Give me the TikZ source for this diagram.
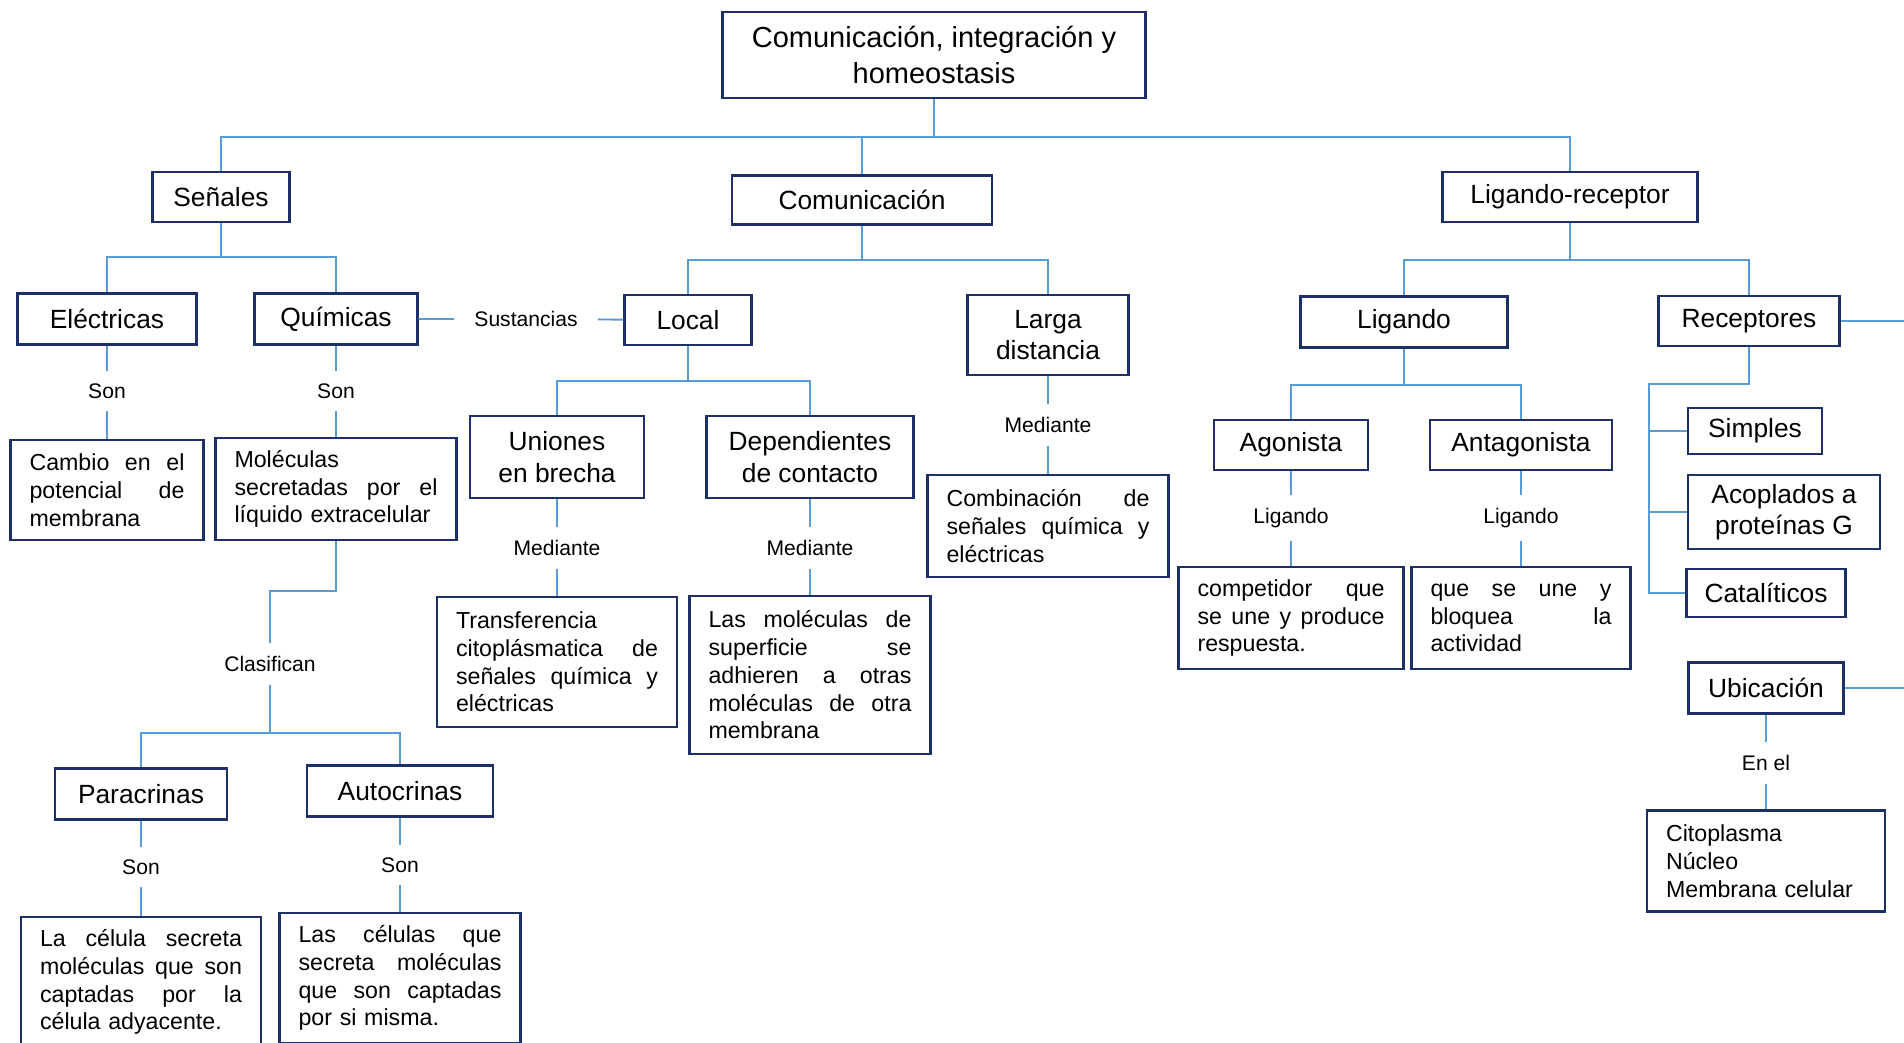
\documentclass[tikz,border=0pt]{standalone}
\usepackage{fontspec}
\setmainfont{Liberation Sans}
\usepackage{tikz}
\definecolor{boxblue}{HTML}{1C2F66}
\definecolor{linkblue}{HTML}{5B9BD5}
\newcommand{\jline}[1]{\makebox[\hsize][s]{\spaceskip=0.28em plus 1fil\relax #1}\\}

\begin{document}
\begin{tikzpicture}[x=0.02cm,y=-0.02cm,
  box/.style={draw=boxblue,line width=1.4pt,fill=white,align=center,inner sep=2pt,font=\fontsize{15}{18}\selectfont},
  txtbox/.style={draw=boxblue,line width=1.4pt,fill=white,align=left,inner xsep=0.38cm,inner ysep=2pt,font=\fontsize{13.2}{15.8}\selectfont},
  lbl/.style={inner xsep=0.4cm,inner ysep=0.25cm,font=\fontsize{12}{14}\selectfont},
  link/.style={draw=linkblue,line width=1.1pt}]
       \useasboundingbox (0,0) rectangle (1904,1042);
       \coordinate (rim) at (1904,0);
       \node[box,minimum width=8.46cm,minimum height=1.72cm,font=\fontsize{16.5}{20}\selectfont] (top) at (934,55) {Comunicación, integración y\\homeostasis};
       \node[box,minimum width=2.74cm,minimum height=1cm] (senales) at (221,197) {Señales};
       \node[box,minimum width=5.2cm,minimum height=0.98cm] (comun) at (862,200) {Comunicación};
       \node[box,minimum width=5.1cm,minimum height=1cm] (ligrec) at (1570,197) {Ligando-receptor};
       \node[box,minimum width=3.58cm,minimum height=1.02cm] (electricas) at (107,319) {Eléctricas};
       \node[box,minimum width=3.26cm,minimum height=1.02cm] (quimicas) at (336,319) {Químicas};
       \node[lbl] (sust) at (526,319) {Sustancias};
       \node[box,minimum width=2.54cm,minimum height=1cm] (local) at (688,320) {Local};
       \node[box,minimum width=3.22cm,minimum height=1.6cm] (larga) at (1048,335) {Larga\\distancia};
       \node[box,minimum width=4.14cm,minimum height=1.02cm] (ligando) at (1404,322) {Ligando};
       \node[box,minimum width=3.62cm,minimum height=1cm] (receptores) at (1749,321) {Receptores};
       \node[lbl] (son1) at (107,391) {Son};
       \node[lbl] (son2) at (336,391) {Son};
       \node[txtbox,text width=3.1cm,minimum height=2cm] (cambio) at (107,490) {\jline{Cambio en el}\jline{potencial de}membrana};
       \node[txtbox,text width=4.06cm,minimum height=2.04cm] (moleculas) at (336,489) {Moléculas\\\jline{secretadas por el}líquido extracelular};
       \node[box,minimum width=3.48cm,minimum height=1.64cm] (uniones) at (557,457) {Uniones\\en brecha};
       \node[box,minimum width=4.14cm,minimum height=1.64cm] (dependientes) at (810,457) {Dependientes\\de contacto};
       \node[lbl] (med1) at (557,548) {Mediante};
       \node[lbl] (med2) at (810,548) {Mediante};
       \node[txtbox,text width=4.04cm,minimum height=2.6cm] (transfer) at (557,662) {Transferencia\\\jline{citoplásmatica de}\jline{señales química y}eléctricas};
       \node[txtbox,text width=4.06cm,minimum height=3.16cm] (superficie) at (810,675) {\jline{Las moléculas de}\jline{superficie se}\jline{adhieren a otras}\jline{moléculas de otra}membrana};
       \node[lbl] (med3) at (1048,425) {Mediante};
       \node[txtbox,text width=4.06cm,minimum height=2.04cm] (combinacion) at (1048,526) {\jline{Combinación de}\jline{señales química y}eléctricas};
       \node[box,minimum width=3.08cm,minimum height=1cm] (agonista) at (1291,445) {Agonista};
       \node[box,minimum width=3.64cm,minimum height=1cm] (antagonista) at (1521,445) {Antagonista};
       \node[lbl] (lig1) at (1291,518) {Ligando};
       \node[lbl] (lig2) at (1521,518) {Ligando};
       \node[txtbox,text width=3.74cm,minimum height=2.04cm] (competidor) at (1291,618) {\jline{competidor que}\jline{se une y produce}respuesta.};
       \node[txtbox,text width=3.62cm,minimum height=2.04cm] (bloquea) at (1521,618) {\jline{que se une y}\jline{bloquea la}actividad};
       \node[box,minimum width=2.68cm,minimum height=0.92cm] (simples) at (1755,431) {Simples};
       \node[box,minimum width=3.84cm,minimum height=1.48cm] (acoplados) at (1784,512) {Acoplados a\\proteínas G};
       \node[box,minimum width=3.18cm,minimum height=0.96cm] (cataliticos) at (1766,593) {Catalíticos};
       \node[box,minimum width=3.1cm,minimum height=1.02cm] (ubicacion) at (1766,688) {Ubicación};
       \node[lbl] (enel) at (1766,763) {En el};
       \node[txtbox,text width=4cm,minimum height=2.02cm] (citoplasma) at (1766,861) {Citoplasma\\Núcleo\\Membrana celular};
       \node[lbl] (clasif) at (270,664) {Clasifican};
       \node[box,minimum width=3.44cm,minimum height=1.02cm] (paracrinas) at (141,794) {Paracrinas};
       \node[box,minimum width=3.72cm,minimum height=1.02cm] (autocrinas) at (400,791) {Autocrinas};
       \node[lbl] (son3) at (141,867) {Son};
       \node[lbl] (son4) at (400,865) {Son};
       \node[txtbox,text width=4.04cm,minimum height=2.6cm] (lacelula) at (141,982) {\jline{La célula secreta}\jline{moléculas que son}\jline{captadas por la}célula adyacente.};
       \node[txtbox,text width=4.06cm,minimum height=2.6cm] (lascelulas) at (400,978) {\jline{Las células que}\jline{secreta moléculas}\jline{que son captadas}por si misma.};
       \draw[link] (top) -- ++(0,82) coordinate (tb);
       \draw[link] (senales) |- (tb);
       \draw[link] (ligrec) |- (tb);
       \draw[link] (comun) -- (comun |- tb);
       \draw[link] (senales) -- ++(0,60) coordinate (sb) -| (electricas);
       \draw[link] (sb) -| (quimicas);
       \draw[link] (comun) -- ++(0,60) coordinate (cb) -| (local);
       \draw[link] (cb) -| (larga);
       \draw[link] (ligrec) -- ++(0,63) coordinate (lb) -| (ligando);
       \draw[link] (lb) -| (receptores);
       \draw[link] (local) -- ++(0,61) coordinate (lob) -| (uniones);
       \draw[link] (lob) -| (dependientes);
       \draw[link] (ligando) -- ++(0,63) coordinate (lgb) -| (agonista);
       \draw[link] (lgb) -| (antagonista);
       \draw[link] (receptores) -- ++(0,63) -- ++(-100,0) coordinate (rb) |- (cataliticos);
       \draw[link] (rb |- simples) -- (simples);
       \draw[link] (rb |- acoplados) -- (acoplados);
       \draw[link] (receptores) -- (receptores -| rim);
       \draw[link] (ubicacion) -- (ubicacion -| rim);
       \draw[link] (quimicas) -- (sust) -- (local);
       \draw[link] (electricas) -- (son1) -- (cambio);
       \draw[link] (quimicas) -- (son2) -- (moleculas);
       \draw[link] (uniones) -- (med1) -- (transfer);
       \draw[link] (dependientes) -- (med2) -- (superficie);
       \draw[link] (larga) -- (med3) -- (combinacion);
       \draw[link] (agonista) -- (lig1) -- (competidor);
       \draw[link] (antagonista) -- (lig2) -- (bloquea);
       \draw[link] (ubicacion) -- (enel) -- (citoplasma);
       \draw[link] (moleculas) -- ++(0,102) -| (clasif);
       \draw[link] (clasif) -- ++(0,69) coordinate (kb) -| (paracrinas);
       \draw[link] (kb) -| (autocrinas);
       \draw[link] (paracrinas) -- (son3) -- (lacelula);
       \draw[link] (autocrinas) -- (son4) -- (lascelulas);
\end{tikzpicture}
\end{document}
